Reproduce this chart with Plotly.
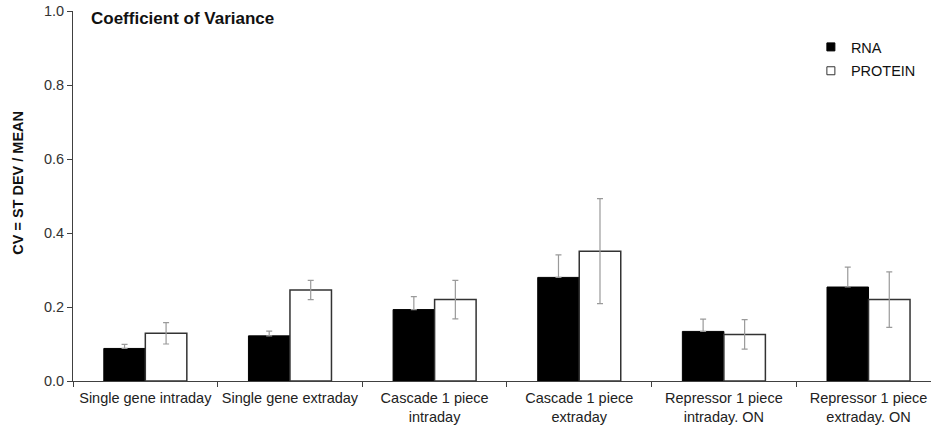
import plotly.graph_objects as go

categories = [
    "Single gene intraday",
    "Single gene extraday",
    "Cascade 1 piece<br>intraday",
    "Cascade 1 piece<br>extraday",
    "Repressor 1 piece<br>intraday. ON",
    "Repressor 1 piece<br>extraday. ON",
]
rna_cv = [0.088, 0.122, 0.193, 0.280, 0.134, 0.254]
rna_err = [0.011, 0.013, 0.035, 0.061, 0.033, 0.054]
protein_cv = [0.129, 0.246, 0.220, 0.351, 0.126, 0.220]
protein_err = [0.029, 0.026, 0.052, 0.142, 0.040, 0.075]

FONT = "Liberation Sans, Arial, sans-serif"
AXIS = "#404040"
ERR = "#9a9a9a"

fig = go.Figure()
# solid bars hide the lower half of their error bars
fig.add_trace(go.Bar(
    x=categories, y=rna_cv, name="RNA", showlegend=False,
    marker=dict(color="black", line=dict(color="black", width=1)),
    error_y=dict(type="data", symmetric=False, array=rna_err,
                 arrayminus=[0] * len(rna_err), color=ERR, thickness=1.2, width=3),
))
fig.add_trace(go.Bar(
    x=categories, y=protein_cv, name="PROTEIN", showlegend=False,
    marker=dict(color="white", line=dict(color="#333333", width=1.5)),
    error_y=dict(type="data", array=protein_err, color=ERR, thickness=1.2, width=3),
))
# legend keys as small squares
fig.add_trace(go.Scatter(
    x=[None], y=[None], mode="markers", name="RNA", legendgroup="a",
    marker=dict(symbol="square", size=8, color="black", line=dict(color="black", width=1)),
))
fig.add_trace(go.Scatter(
    x=[None], y=[None], mode="markers", name="PROTEIN", legendgroup="b",
    marker=dict(symbol="square", size=8, color="white", line=dict(color="#333333", width=1)),
))

fig.update_layout(
    width=931, height=425,
    margin=dict(l=73, r=0, t=11, b=44),
    paper_bgcolor="white", plot_bgcolor="white",
    font=dict(family=FONT, size=14.5, color="#222222"),
    barmode="group", bargap=0.426, bargroupgap=0,
    showlegend=True,
    legend=dict(x=0.86, y=0.946, xanchor="left", yanchor="top",
                font=dict(size=14.5, color="#111111"), tracegroupgap=2,
                itemwidth=30, bgcolor="rgba(0,0,0,0)"),
    annotations=[
        dict(text="<b>Coefficient of Variance</b>", xref="paper", yref="paper",
             x=0.019, y=0.98, xanchor="left", yanchor="middle", showarrow=False,
             font=dict(size=17, color="#111111", family=FONT)),
        # y-axis title
        dict(text="<b>CV = ST DEV / MEAN</b>", xref="paper", yref="paper",
             x=-0.064, y=0.536, xanchor="center", yanchor="middle", showarrow=False,
             textangle=-90, font=dict(size=14.5, color="#111111", family=FONT)),
    ],
)
fig.update_xaxes(
    type="category", range=[-0.5, 5.432], automargin=False, tickangle=0,
    showline=True, linecolor=AXIS, linewidth=1,
    ticks="outside", tickson="boundaries", ticklen=5, tickcolor=AXIS,
    ticklabelstandoff=4,
    tickfont=dict(size=14.5, color="#222222"), showgrid=False,
)
fig.update_yaxes(
    range=[0, 1.0], dtick=0.2, tickformat=".1f", automargin=False,
    showline=True, linecolor=AXIS, linewidth=1,
    ticks="outside", ticklen=5, tickcolor=AXIS,
    tickfont=dict(size=14.5, color="#333333"), showgrid=False, zeroline=False,
)

fig.write_html("out.html")
